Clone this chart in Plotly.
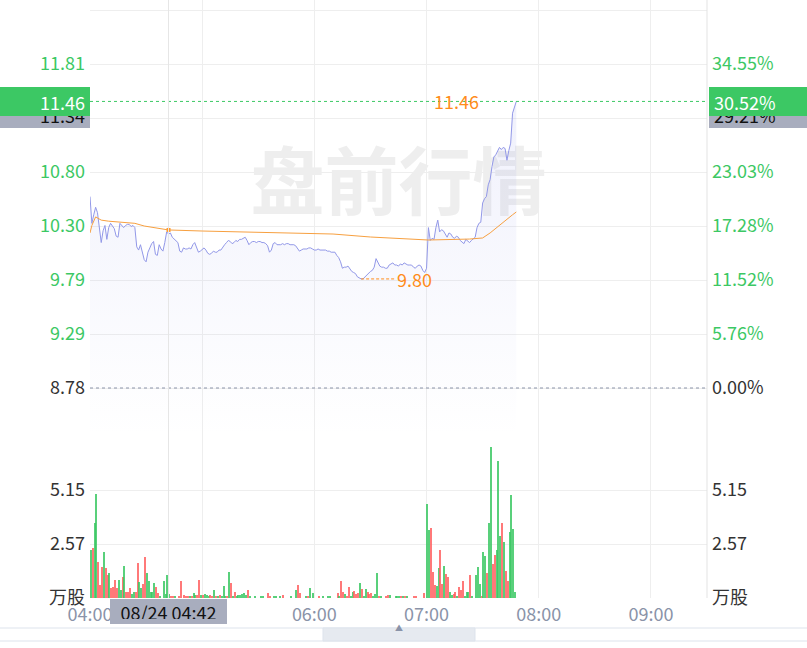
import pandas as pd
import plotly.graph_objects as go

# ---------------- data ----------------
trade_day = "2023-08-24"
session_start = "04:00"
session_end = "09:30"
pre_close = 8.78
crosshair_time = "04:42"
crosshair_price = 11.3448

# per-minute last price from 04:00
price = [
    10.57, 10.32, 10.40, 10.47, 10.42, 10.30, 10.14, 10.25, 10.30, 10.17, 10.28,
    10.32, 10.29, 10.27, 10.20, 10.19, 10.32, 10.30, 10.28, 10.30, 10.31,
    10.31, 10.29, 10.30, 10.28, 10.10, 10.07, 10.12, 10.05, 9.98, 9.96,
    10.05, 10.09, 10.13, 10.15, 10.03, 10.02, 10.12, 10.08, 10.06, 10.14,
    10.24, 10.22, 10.23, 10.19, 10.17, 10.15, 10.14, 10.06, 10.05, 10.09,
    10.08, 10.08, 10.09, 10.08, 10.12, 10.14, 10.10, 10.05, 10.06, 10.08,
    10.09, 10.07, 10.04, 10.03, 10.04, 10.06, 10.05, 10.05, 10.07, 10.07,
    10.10, 10.12, 10.14, 10.16, 10.15, 10.13, 10.14, 10.16, 10.15, 10.17,
    10.17, 10.18, 10.19, 10.16, 10.12, 10.14, 10.15, 10.15, 10.14, 10.15,
    10.15, 10.14, 10.14, 10.13, 10.11, 10.05, 10.07, 10.13, 10.14, 10.12,
    10.12, 10.12, 10.13, 10.12, 10.13, 10.13, 10.12, 10.12, 10.12, 10.11,
    10.09, 10.06, 10.07, 10.08, 10.08, 10.08, 10.09, 10.09, 10.08, 10.07,
    10.07, 10.08, 10.07, 10.07, 10.07, 10.07, 10.06, 10.06, 10.05, 10.05,
    10.05, 10.02, 10.00, 9.96, 9.90, 9.91, 9.91, 9.92, 9.89, 9.87,
    9.86, 9.85, 9.82, 9.81, 9.80, 9.80, 9.82, 9.84, 9.85, 9.87,
    9.88, 9.91, 9.99, 9.95, 9.92, 9.91, 9.91, 9.90, 9.90, 9.93,
    9.94, 9.95, 9.93, 9.93, 9.92, 9.94, 9.93, 9.95, 9.94, 9.93,
    9.93, 9.93, 9.91, 9.90, 9.92, 9.93, 9.92, 9.88, 9.86, 9.90,
    10.28, 10.16, 10.18, 10.17, 10.28, 10.35, 10.24, 10.26, 10.25, 10.22,
    10.19, 10.23, 10.22, 10.19, 10.18, 10.20, 10.19, 10.16, 10.14, 10.13,
    10.17, 10.15, 10.14, 10.16, 10.18, 10.19, 10.28, 10.32, 10.33, 10.51,
    10.55, 10.57, 10.68, 10.73, 10.85, 10.94, 10.96, 11.00, 11.03, 11.01,
    11.03, 11.02, 10.91, 11.00, 11.07, 11.35, 11.41, 11.46,
]

# average price line (minute offset, value)
avg_minute = [0, 1, 3, 6, 10, 16, 24, 29, 37, 42, 60, 85, 112, 130, 150,
              181, 203, 210, 214, 219, 223, 226, 228]
avg_price = [10.23, 10.30, 10.38, 10.35, 10.34, 10.33, 10.32, 10.295, 10.276,
             10.258, 10.248, 10.239, 10.230, 10.220, 10.192, 10.164, 10.173,
             10.183, 10.230, 10.304, 10.360, 10.400, 10.426]

# volume bars: minute offset, value (万股), side (r = up, g = down)
vol_minute = [
    0, 1, 2, 3, 4, 5, 6, 7, 8, 9,
    10, 11, 12, 13, 14, 15, 16, 17, 18, 19,
    20, 21, 22, 23, 24, 25, 26, 27, 28, 29,
    30, 31, 32, 33, 34, 35, 36, 37, 39, 40,
    41, 42, 43, 44, 45, 47, 48, 50, 51, 52,
    53, 54, 55, 56, 57, 58, 59, 60, 61, 62,
    63, 64, 65, 66, 67, 68, 69, 70, 71, 72,
    73, 74, 75, 76, 77, 78, 79, 80, 81, 82,
    83, 84, 85, 88, 91, 92, 95, 96, 98, 99,
    101, 103, 107, 110, 111, 112, 115, 116, 117, 119,
    122, 124, 127, 128, 132, 133, 134, 135, 136, 137,
    138, 139, 140, 141, 142, 143, 144, 145, 146, 147,
    148, 149, 150, 151, 152, 153, 154, 155, 158, 159,
    160, 163, 164, 165, 166, 167, 168, 169, 173, 174,
    178, 180, 181, 182, 183, 184, 185, 186, 187, 188,
    189, 190, 191, 192, 193, 194, 195, 196, 197, 198,
    199, 200, 201, 202, 203, 204, 206, 207, 208, 209,
    210, 211, 212, 213, 214, 215, 216, 217, 218, 219,
    220, 221, 222, 223, 224, 225, 226, 227,
]
vol_value = [
    2.29, 2.38, 3.59, 4.96, 1.73, 0.62, 1.49, 2.21, 1.43, 1.10,
    1.19, 0.48, 0.52, 0.86, 0.48, 0.86, 0.38, 1.02, 1.53, 0.31,
    0.28, 0.50, 0.21, 0.27, 0.31, 1.67, 0.74, 0.48, 0.67, 1.97,
    1.19, 0.79, 0.27, 0.31, 0.72, 0.51, 0.24, 0.11, 0.83, 0.21,
    1.10, 0.21, 0.11, 0.11, 0.08, 0.11, 0.79, 0.14, 0.08, 0.11,
    0.11, 0.11, 0.24, 0.16, 0.16, 0.86, 0.16, 0.16, 0.19, 0.14,
    0.11, 0.14, 0.08, 0.38, 0.11, 0.08, 0.16, 0.08, 0.57, 0.08,
    0.08, 1.23, 0.72, 0.11, 0.27, 0.08, 0.14, 0.14, 0.19, 0.24,
    0.14, 0.36, 0.05, 0.11, 0.11, 0.11, 0.24, 0.05, 0.11, 0.08,
    0.08, 0.16, 0.08, 0.38, 0.62, 0.24, 0.11, 0.11, 0.48, 0.24,
    0.08, 0.05, 0.05, 0.05, 0.24, 0.11, 0.83, 0.29, 0.21, 0.08,
    0.51, 0.08, 0.27, 0.35, 0.21, 0.24, 0.72, 0.43, 0.08, 0.43,
    0.27, 0.21, 0.24, 0.11, 0.21, 1.17, 0.08, 0.11, 0.11, 0.16,
    0.14, 0.11, 0.11, 0.08, 0.11, 0.08, 0.11, 0.08, 0.05, 0.05,
    0.24, 4.48, 3.24, 3.32, 1.26, 0.62, 0.59, 1.41, 2.29, 0.65,
    1.53, 1.14, 1.02, 0.29, 0.16, 0.21, 0.29, 0.11, 0.51, 0.38,
    0.79, 0.11, 0.31, 0.27, 1.12, 0.08, 1.12, 1.49, 0.65, 0.11,
    2.21, 2.02, 1.19, 3.56, 7.19, 1.64, 2.05, 2.29, 6.55, 2.97,
    3.56, 2.66, 1.28, 0.81, 3.13, 4.91, 3.27, 0.31,
]
vol_side = [
    "g", "r", "g", "g", "r", "r", "r", "g", "r", "r",
    "g", "r", "r", "r", "r", "g", "g", "r", "g", "r",
    "r", "r", "g", "g", "r", "r", "g", "g", "r", "r",
    "g", "g", "g", "g", "g", "r", "r", "g", "g", "g",
    "g", "g", "r", "r", "g", "r", "r", "r", "r", "r",
    "g", "r", "g", "g", "r", "r", "g", "r", "g", "g",
    "g", "r", "r", "g", "r", "g", "r", "g", "g", "g",
    "r", "g", "r", "g", "r", "g", "g", "g", "g", "g",
    "g", "r", "g", "g", "g", "g", "r", "r", "g", "g",
    "g", "r", "g", "g", "r", "r", "g", "r", "g", "g",
    "r", "g", "g", "g", "r", "g", "r", "r", "g", "r",
    "r", "g", "g", "r", "r", "r", "g", "r", "g", "g",
    "r", "r", "r", "g", "g", "g", "r", "g", "r", "r",
    "g", "g", "g", "g", "r", "g", "r", "g", "r", "r",
    "r", "g", "g", "r", "r", "r", "g", "g", "r", "r",
    "g", "r", "r", "g", "g", "r", "r", "g", "r", "r",
    "r", "g", "g", "g", "r", "g", "g", "g", "g", "r",
    "g", "g", "r", "g", "g", "r", "r", "g", "g", "g",
    "r", "g", "r", "r", "g", "g", "g", "g",
]

price_tick_labels = ["8.78", "9.29", "9.79", "10.30", "10.80", "11.30", "11.81", "12.31"]
pct_tick_labels = ["0.00%", "5.76%", "11.52%", "17.28%", "23.03%", "28.79%", "34.55%", "40.31%"]
vol_tick_labels = ["万股", "2.57", "5.15", ""]
time_tick_labels = ["04:00", "05:00", "06:00", "07:00", "08:00", "09:00"]
watermark = "盘前行情"

# ---------------- helpers ----------------
t0 = pd.Timestamp(f"{trade_day} {session_start}")
t_end = pd.Timestamp(f"{trade_day} {session_end}")
price_times = [t0 + pd.Timedelta(minutes=i) for i in range(len(price))]
avg_times = [t0 + pd.Timedelta(minutes=m) for m in avg_minute]
vol_times = [t0 + pd.Timedelta(minutes=m, seconds=30) for m in vol_minute]
tick_times = [t0 + pd.Timedelta(hours=h) for h in range(len(time_tick_labels))]

GREEN = "#3cc864"
RED = "#ff6262"
ORANGE = "#ff8c1a"
GRID = "#eeeeee"
DARK = "#333333"
AXGRAY = "#8a93a8"
FONT = "Noto Sans CJK SC"
FS = 18

step = (11.81 - pre_close) / 6
y_lo = pre_close - step * 48 / 54
y_hi = pre_close + step * 388 / 54
price_ticks = [pre_close + k * step for k in range(len(price_tick_labels))]
pct = lambda v: (v / pre_close - 1) * 100
pct_ticks = [pct(v) for v in price_ticks]

hidden = {"11.30", "12.31", "28.79%", "40.31%"}
def colored(lbl):
    if lbl in hidden:
        return ""
    col = DARK if lbl in ("8.78", "0.00%") else GREEN
    return f"<span style='color:{col}'>{lbl}</span>"

vol_ticks = [0, 2.575, 5.15, 7.725]

split = 162 / 598

hi_i = max(range(len(price)), key=lambda i: price[i])
lo_i = min(range(len(price)), key=lambda i: price[i])

fig = go.Figure()

# watermark (under everything)
fig.add_trace(go.Scatter(
    x=[t0 + (t_end - t0) / 2], y=[10.63], mode="text", text=[watermark],
    textfont=dict(size=74, color="#eeeeee", family=FONT, weight="bold"),
    hoverinfo="skip", showlegend=False, yaxis="y"))

# price line with fill
fig.add_trace(go.Scatter(
    x=price_times, y=price, mode="lines", yaxis="y",
    line=dict(color="#9298e8", width=1),
    fill="tozeroy",
    fillgradient=dict(type="vertical", start=y_lo, stop=max(price),
                      colorscale=[[0, "rgba(130,138,230,0.0)"],
                                  [1, "rgba(130,138,230,0.12)"]]),
    showlegend=False, hoverinfo="skip"))

# average line
fig.add_trace(go.Scatter(
    x=avg_times, y=avg_price, mode="lines", yaxis="y",
    line=dict(color="#f7a040", width=1), showlegend=False, hoverinfo="skip"))

# crosshair marker on the average line
ct = pd.Timestamp(f"{trade_day} {crosshair_time}")
ci = int((ct - t0).total_seconds() // 60)
fig.add_trace(go.Scatter(
    x=[ct], y=[avg_price[avg_minute.index(ci)]], mode="markers", yaxis="y",
    marker=dict(color="#ff9a2e", size=4, symbol="square"),
    showlegend=False, hoverinfo="skip"))

# pct axis carrier
fig.add_trace(go.Scatter(x=[t0], y=[pct(price[0])], yaxis="y2", mode="markers",
                         marker=dict(opacity=0), showlegend=False, hoverinfo="skip"))

# volume bars
fig.add_trace(go.Bar(
    x=vol_times, y=vol_value, yaxis="y3",
    marker=dict(color=[RED if s == "r" else GREEN for s in vol_side],
                line=dict(width=0), opacity=0.85),
    width=60000 * 0.7, showlegend=False, hoverinfo="skip"))
fig.add_trace(go.Scatter(x=[t0], y=[0], yaxis="y4", mode="markers",
                         marker=dict(opacity=0), showlegend=False, hoverinfo="skip"))

axis_common = dict(showline=False, zeroline=False, ticks="", fixedrange=True, automargin=False)

fig.update_layout(
    width=807, height=648,
    margin=dict(l=90, r=100, t=0, b=50, autoexpand=False),
    paper_bgcolor="white", plot_bgcolor="white",
    font=dict(family=FONT, size=FS, color=DARK),
    bargap=0,
    xaxis=dict(type="date", range=[t0, t_end], tickvals=tick_times,
               ticktext=time_tick_labels, showgrid=True, gridcolor=GRID,
               tickfont=dict(color=AXGRAY, size=FS), anchor="y3",
               ticklabelstandoff=4, **axis_common),
    yaxis=dict(domain=[split, 1], range=[y_lo, y_hi], tickvals=price_ticks,
               ticktext=[colored(l) for l in price_tick_labels],
               showgrid=True, gridcolor=GRID, ticklabelstandoff=4, **axis_common),
    yaxis2=dict(overlaying="y", side="right", range=[pct(y_lo), pct(y_hi)],
                tickvals=pct_ticks, ticktext=[colored(l) for l in pct_tick_labels],
                showgrid=False, ticklabelstandoff=4, **axis_common),
    yaxis3=dict(domain=[0, split], range=[0, vol_ticks[-1]], tickvals=vol_ticks,
                ticktext=vol_tick_labels, showgrid=True, gridcolor=GRID,
                tickfont=dict(color=DARK), ticklabelstandoff=4, **axis_common),
    yaxis4=dict(overlaying="y3", side="right", range=[0, vol_ticks[-1]], tickvals=vol_ticks,
                ticktext=vol_tick_labels, showgrid=False,
                tickfont=dict(color=DARK), ticklabelstandoff=4, **axis_common),
)

# reference dashed lines
fig.add_shape(type="line", xref="paper", x0=0, x1=1, yref="y", y0=price[hi_i], y1=price[hi_i],
              line=dict(color=GREEN, width=1, dash="3px,3px"))
fig.add_shape(type="line", xref="paper", x0=0, x1=1, yref="y", y0=pre_close, y1=pre_close,
              line=dict(color=AXGRAY, width=1, dash="3px,3px"))
fig.add_shape(type="line", xref="x", x0=price_times[lo_i],
              x1=price_times[lo_i] + pd.Timedelta(minutes=18.5),
              yref="y", y0=price[lo_i], y1=price[lo_i],
              line=dict(color=ORANGE, width=1, dash="3px,2px"))
# crosshair vertical
fig.add_shape(type="line", xref="x", x0=ct, x1=ct, yref="paper", y0=0, y1=1,
              line=dict(color="#e6e6e6", width=1))
# right border
fig.add_shape(type="line", xref="paper", x0=1, x1=1, yref="paper", y0=0, y1=1,
              line=dict(color="#e3e3e3", width=1))

# scrollbar
px2x = lambda p: (p - 90) / 617
py2y = lambda p: (598 - p) / 598
fig.add_shape(type="rect", xref="paper", yref="paper", x0=px2x(-2), x1=px2x(809),
              y0=py2y(641), y1=py2y(628), line=dict(color="#dde3ec", width=1),
              fillcolor="white", layer="above")
fig.add_shape(type="rect", xref="paper", yref="paper", x0=px2x(323), x1=px2x(475),
              y0=py2y(641), y1=py2y(628), line=dict(color="#dde3ec", width=1),
              fillcolor="#e6eaf0", layer="above")

ann = []
ann.append(dict(x=price_times[hi_i], y=price[hi_i], xref="x", yref="y", text=f"{price[hi_i]:.2f}",
                showarrow=False, xanchor="right", yanchor="middle", xshift=-35,
                font=dict(color=ORANGE, size=FS)))
ann.append(dict(x=price_times[lo_i], y=price[lo_i], xref="x", yref="y", text=f"{price[lo_i]:.2f}",
                showarrow=False, xanchor="left", yanchor="middle", xshift=34,
                font=dict(color=ORANGE, size=FS)))
# crosshair labels (gray) under the green last-price labels
ann.append(dict(x=0, y=crosshair_price, xref="paper", yref="y", text=f"{crosshair_price:.2f}",
                showarrow=False, xanchor="right", yanchor="middle", align="right",
                width=80, height=17, borderpad=5, borderwidth=0, bgcolor="#a8adbe",
                yshift=-1, font=dict(color="#111111", size=FS)))
ann.append(dict(x=1, y=crosshair_price, xref="paper", yref="y",
                text=f"{pct(crosshair_price):.2f}%", xshift=2, yshift=-1,
                showarrow=False, xanchor="left", yanchor="middle", align="left",
                width=88, height=17, borderpad=5, borderwidth=0, bgcolor="#a8adbe",
                font=dict(color="#111111", size=FS)))
ann.append(dict(x=0, y=price[hi_i], xref="paper", yref="y", text=f"{price[hi_i]:.2f}",
                showarrow=False, xanchor="right", yanchor="middle", align="right",
                width=80, height=19, borderpad=5, borderwidth=0, bgcolor=GREEN,
                font=dict(color="white", size=FS)))
ann.append(dict(x=1, y=price[hi_i], xref="paper", yref="y", text=f"{pct(price[hi_i]):.2f}%",
                xshift=2, showarrow=False, xanchor="left", yanchor="middle", align="left",
                width=88, height=19, borderpad=5, borderwidth=0, bgcolor=GREEN,
                font=dict(color="white", size=FS)))
ann.append(dict(x=ct, y=0, xref="x", yref="paper", yshift=-1,
                text=ct.strftime("%m/%d %H:%M"), showarrow=False,
                xanchor="center", yanchor="top", width=107, height=15, borderpad=5,
                borderwidth=0, bgcolor="#a8adbe", font=dict(color="#111111", size=FS)))
ann.append(dict(x=px2x(399), y=py2y(634.5), xref="paper", yref="paper", text="▲",
                showarrow=False, font=dict(color=AXGRAY, size=8)))
fig.update_layout(annotations=ann)

fig.write_html("out.html", config={"displayModeBar": False},
               post_script="document.body.style.margin='0';document.body.style.overflow='hidden';")
